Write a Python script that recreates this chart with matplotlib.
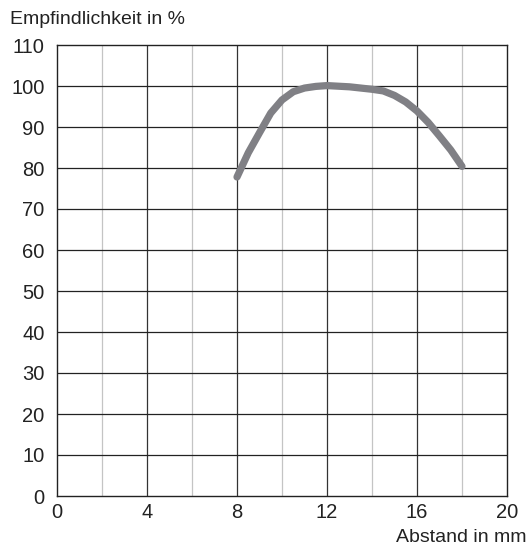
import matplotlib.pyplot as plt
import numpy as np

# Daten
abstand = [8, 8.5, 9, 9.5, 10, 10.5, 11, 11.5, 12, 13, 14, 14.5, 15, 15.5, 16, 16.5, 17, 17.5, 18]
empfindlichkeit = [77.8, 83.7, 88.6, 93.4, 96.6, 98.6, 99.5, 99.9, 100.1, 99.8, 99.2,
                   98.8, 97.7, 96.1, 93.9, 91.1, 87.8, 84.4, 80.4]

x_ticks = [0, 4, 8, 12, 16, 20]
y_ticks = list(range(0, 111, 10))

plt.rcParams['font.family'] = ['Liberation Sans', 'DejaVu Sans']

fig = plt.figure(figsize=(5.3, 5.5), dpi=100)
ax = fig.add_axes([57 / 530, 1 - 496 / 550, 450 / 530, 451 / 550])

ax.set_xlim(0, 20)
ax.set_ylim(0, 110)

# Gitter: helle Linien bei 2, 6, 10, ... und dunkle bei 4, 8, ...
for xv in range(2, 20, 4):
    ax.axvline(xv, color='#c4c4c4', lw=0.9, zorder=1)
for xv in range(4, 20, 4):
    ax.axvline(xv, color='#333333', lw=0.9, zorder=1)
for yv in range(10, 110, 10):
    ax.axhline(yv, color='#222222', lw=0.9, zorder=1)

ax.plot(abstand, empfindlichkeit, color='#808085', lw=5.2,
        solid_capstyle='round', solid_joinstyle='round', zorder=3)

ax.set_xticks(x_ticks)
ax.set_yticks(y_ticks)
ax.tick_params(length=0, labelsize=14.5, colors='#222222')
ax.tick_params(axis='y', pad=9)
ax.tick_params(axis='x', pad=5)
for s in ax.spines.values():
    s.set_color('#222222')
    s.set_linewidth(1.0)

fig.text(10 / 530, 1 - 20 / 550, 'Empfindlichkeit in %', fontsize=14,
         color='#222222', ha='left', va='center')
fig.text(527 / 530, 1 - 538 / 550, 'Abstand in mm', fontsize=14,
         color='#222222', ha='right', va='center')

fig.savefig('out.png', dpi=100)
